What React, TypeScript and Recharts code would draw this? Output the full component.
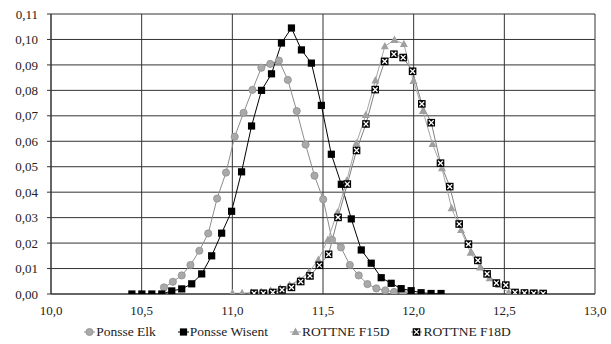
import React from "react";
import { LineChart, Line, XAxis, YAxis, CartesianGrid, Legend } from "recharts";

const elkX = [10.623, 10.672, 10.721, 10.769, 10.818, 10.867, 10.916, 10.965, 11.013, 11.062, 11.111, 11.16, 11.209, 11.257, 11.306, 11.355, 11.404, 11.453, 11.501, 11.55, 11.599, 11.648, 11.697, 11.745, 11.794, 11.843, 11.892, 11.941];
const elkY = [0.0026, 0.0048, 0.0073, 0.0114, 0.017, 0.0238, 0.0375, 0.0477, 0.0618, 0.0712, 0.0802, 0.0889, 0.0904, 0.0917, 0.0841, 0.0719, 0.0587, 0.0465, 0.0372, 0.0213, 0.0183, 0.0114, 0.0073, 0.0039, 0.0022, 0.0014, 0.0008, 0.0003];

const wisentX = [10.446, 10.501, 10.556, 10.611, 10.666, 10.721, 10.776, 10.831, 10.886, 10.941, 10.996, 11.051, 11.106, 11.161, 11.216, 11.271, 11.326, 11.381, 11.436, 11.491, 11.546, 11.601, 11.656, 11.711, 11.766, 11.821, 11.876, 11.931, 11.986, 12.041, 12.096, 12.151];
const wisentY = [0, 0, 0, 0, 0.0012, 0.002, 0.004, 0.0079, 0.015, 0.0239, 0.0325, 0.048, 0.066, 0.08, 0.0865, 0.0986, 0.1045, 0.0959, 0.0907, 0.0741, 0.0549, 0.0431, 0.0295, 0.0173, 0.0121, 0.0064, 0.0042, 0.0021, 0.0013, 0.0005, 0.0002, 0.0002];

const f15X = [11.001, 11.054, 11.106, 11.159, 11.211, 11.264, 11.316, 11.369, 11.421, 11.474, 11.526, 11.579, 11.631, 11.684, 11.736, 11.789, 11.841, 11.894, 11.946, 11.999, 12.051, 12.104, 12.156, 12.209, 12.261, 12.314, 12.366, 12.419, 12.471, 12.524, 12.576, 12.629, 12.681];
const f15Y = [0.0003, 0.0003, 0.0005, 0.0008, 0.0013, 0.0022, 0.0035, 0.0055, 0.0085, 0.0134, 0.0212, 0.032, 0.0445, 0.0592, 0.0703, 0.0839, 0.0973, 0.0998, 0.0982, 0.0837, 0.0719, 0.0589, 0.0494, 0.0337, 0.0251, 0.0162, 0.0104, 0.0062, 0.0035, 0.0005, 0.0003, 0.0002, 0.0002];

const f18X = [11.12, 11.171, 11.223, 11.274, 11.326, 11.377, 11.428, 11.48, 11.531, 11.583, 11.634, 11.685, 11.737, 11.788, 11.84, 11.891, 11.942, 11.994, 12.045, 12.097, 12.148, 12.199, 12.251, 12.302, 12.354, 12.405, 12.456, 12.508, 12.559, 12.611, 12.662, 12.714];
const f18Y = [0.0003, 0.0003, 0.0006, 0.0016, 0.0026, 0.0049, 0.0071, 0.0113, 0.0156, 0.0301, 0.0432, 0.0564, 0.0668, 0.0803, 0.0914, 0.0942, 0.0929, 0.0875, 0.0747, 0.0673, 0.0514, 0.0422, 0.0275, 0.0196, 0.0132, 0.0079, 0.0043, 0.0035, 0.0006, 0.0004, 0.0003, 0.0002];

const seriesNames = ["Ponsse Elk", "Ponsse Wisent", "ROTTNE F15D", "ROTTNE F18D"];
const xTicks = [10, 10.5, 11, 11.5, 12, 12.5, 13];
const yTicks = [0, 0.01, 0.02, 0.03, 0.04, 0.05, 0.06, 0.07, 0.08, 0.09, 0.1, 0.11];

const zip = (xs: number[], ys: number[]) => xs.map((x, i) => ({ x, y: ys[i] }));
const elkData = zip(elkX, elkY);
const wisentData = zip(wisentX, wisentY);
const f15Data = zip(f15X, f15Y);
const f18Data = zip(f18X, f18Y);

const FONT = '"Liberation Serif", "Times New Roman", serif';

function Marker({ kind, cx, cy }: { kind: number; cx: number; cy: number }) {
  if (kind === 0)
    return <circle cx={cx} cy={cy} r={3.6} fill="#a9a9a9" stroke="#8f8f8f" strokeWidth={0.8} />;
  if (kind === 1)
    return <rect x={cx - 3.6} y={cy - 3.6} width={7.2} height={7.2} fill="#000" />;
  if (kind === 2)
    return (
      <polygon
        points={`${cx},${cy - 4.4} ${cx - 4},${cy + 3} ${cx + 4},${cy + 3}`}
        fill="#a0a0a0"
      />
    );
  return (
    <g>
      <rect x={cx - 3.8} y={cy - 3.8} width={7.6} height={7.6} fill="#000" />
      <line x1={cx - 2.4} y1={cy - 2.4} x2={cx + 2.4} y2={cy + 2.4} stroke="#fff" strokeWidth={1.3} />
      <line x1={cx - 2.4} y1={cy + 2.4} x2={cx + 2.4} y2={cy - 2.4} stroke="#fff" strokeWidth={1.3} />
    </g>
  );
}

const makeDot = (kind: number) => (props: any) => {
  const { cx, cy, index } = props;
  if (cx == null || cy == null) return <g key={`d${kind}-${index}`} />;
  return (
    <g key={`d${kind}-${index}`}>
      <Marker kind={kind} cx={cx} cy={cy} />
    </g>
  );
};

const lineColors = ["#8c8c8c", "#000000", "#a6a6a6", "#808080"];

function LegendContent() {
  return (
    <div
      style={{
        display: "flex",
        justifyContent: "center",
        alignItems: "center",
        fontFamily: FONT,
        fontSize: 13.5,
        color: "#222",
        height: 20,
        gap: 22,
      }}
    >
      {seriesNames.map((n, i) => (
        <div key={n} style={{ display: "flex", alignItems: "center" }}>
          <svg width={11} height={12} style={{ marginRight: 1 }}>
            <line x1={0} y1={6} x2={11} y2={6} stroke={lineColors[i]} strokeWidth={1} />
            <Marker kind={i} cx={5.5} cy={6} />
          </svg>
          <span>{n}</span>
        </div>
      ))}
    </div>
  );
}

const fmtX = (v: number) => v.toFixed(1).replace(".", ",");
const fmtY = (v: number) => v.toFixed(2).replace(".", ",");

export default function App() {
  return (
    <div style={{ position: "absolute", left: 0, top: 0, width: 611, height: 344, background: "#fff", fontFamily: FONT }}>
      <LineChart width={611} height={344} margin={{ top: 14, right: 16, left: 0, bottom: 2 }} style={{ fontFamily: FONT }}>
        <CartesianGrid stroke="#333" strokeWidth={1} vertical horizontal />
        <XAxis
          type="number"
          dataKey="x"
          domain={[10, 13]}
          ticks={xTicks}
          tickFormatter={fmtX}
          allowDataOverflow
          height={28}
          tickSize={0}
          tickMargin={12}
          stroke="#333"
          tick={{ fontFamily: FONT, fontSize: 13, fill: "#222" }}
        />
        <YAxis
          type="number"
          dataKey="y"
          domain={[0, 0.11]}
          ticks={yTicks}
          tickFormatter={fmtY}
          allowDataOverflow
          width={51}
          tickSize={4}
          tickMargin={9}
          stroke="#333"
          tick={{ fontFamily: FONT, fontSize: 13, fill: "#222" }}
        />
        <Legend verticalAlign="bottom" content={<LegendContent />} wrapperStyle={{ bottom: 2, fontFamily: FONT }} />
        <Line data={elkData} dataKey="y" name={seriesNames[0]} stroke={lineColors[0]} strokeWidth={1} dot={makeDot(0)} isAnimationActive={false} />
        <Line data={wisentData} dataKey="y" name={seriesNames[1]} stroke={lineColors[1]} strokeWidth={1} dot={makeDot(1)} isAnimationActive={false} />
        <Line data={f15Data} dataKey="y" name={seriesNames[2]} stroke={lineColors[2]} strokeWidth={1} dot={makeDot(2)} isAnimationActive={false} />
        <Line data={f18Data} dataKey="y" name={seriesNames[3]} stroke={lineColors[3]} strokeWidth={1} dot={makeDot(3)} isAnimationActive={false} />
      </LineChart>
    </div>
  );
}
